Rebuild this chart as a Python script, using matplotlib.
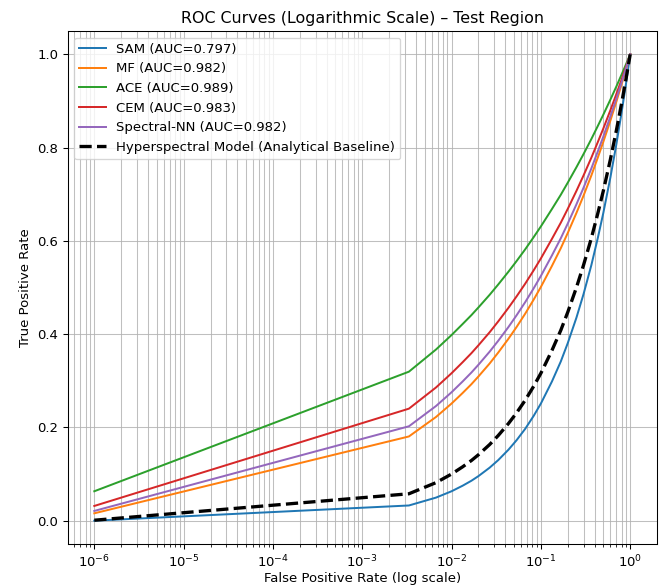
import matplotlib
matplotlib.use("Agg")
import matplotlib.pyplot as plt

fpr = [0.000001, 0.00333, 0.0067, 0.01, 0.0133, 0.0167, 0.02, 0.0267, 0.0333, 0.0433,
       0.0533, 0.0667, 0.0833, 0.1, 0.133, 0.167, 0.2, 0.25, 0.3, 0.367, 0.433, 0.5,
       0.6, 0.7, 0.8, 0.9, 1.0]

tpr_sam = [0.000, 0.0326, 0.0495, 0.0631, 0.0750, 0.0857, 0.0956, 0.1137, 0.1299, 0.1521,
           0.1723, 0.1969, 0.2252, 0.2512, 0.2985, 0.3413, 0.3808, 0.4353, 0.4856, 0.5477,
           0.6055, 0.6598, 0.7360, 0.8073, 0.8747, 0.9387, 1.0]
tpr_mf = [0.0158, 0.1806, 0.2224, 0.2512, 0.2738, 0.2928, 0.3093, 0.3371, 0.3605, 0.3900,
          0.4150, 0.4438, 0.4745, 0.5012, 0.5463, 0.5842, 0.6170, 0.6598, 0.6968, 0.7401,
          0.7781, 0.8123, 0.8579, 0.8985, 0.9353, 0.9689, 1.0]
tpr_ace = [0.0631, 0.3195, 0.3671, 0.3981, 0.4217, 0.4409, 0.4573, 0.4844, 0.5065, 0.5338,
           0.5564, 0.5818, 0.6084, 0.6310, 0.6683, 0.6988, 0.7248, 0.7579, 0.7860, 0.8182,
           0.8460, 0.8706, 0.9029, 0.9311, 0.9564, 0.9791, 1.0]
tpr_cem = [0.0316, 0.2402, 0.2857, 0.3162, 0.3398, 0.3593, 0.3761, 0.4041, 0.4273, 0.4563,
           0.4806, 0.5081, 0.5373, 0.5623, 0.6043, 0.6389, 0.6687, 0.7071, 0.7401, 0.7782,
           0.8114, 0.8409, 0.8801, 0.9147, 0.9457, 0.9740, 1.0]
tpr_snn = [0.0209, 0.2024, 0.2459, 0.2754, 0.2985, 0.3178, 0.3344, 0.3625, 0.3858, 0.4152,
           0.4401, 0.4685, 0.4987, 0.5248, 0.5688, 0.6055, 0.6372, 0.6783, 0.7138, 0.7551,
           0.7913, 0.8236, 0.8668, 0.9049, 0.9394, 0.9709, 1.0]
tpr_base = [0.001, 0.0577, 0.0816, 0.1000, 0.1155, 0.1291, 0.1414, 0.1633, 0.1826, 0.2082,
            0.2309, 0.2582, 0.2887, 0.3162, 0.3651, 0.4082, 0.4472, 0.5000, 0.5477, 0.6055,
            0.6583, 0.7071, 0.7746, 0.8367, 0.8944, 0.9487, 1.0]

labels = ["SAM (AUC=0.797)", "MF (AUC=0.982)", "ACE (AUC=0.989)",
          "CEM (AUC=0.983)", "Spectral-NN (AUC=0.982)"]
series = [tpr_sam, tpr_mf, tpr_ace, tpr_cem, tpr_snn]
colors = ["#1f77b4", "#ff7f0e", "#2ca02c", "#d62728", "#9467bd"]

DPI = 95
fig = plt.figure(figsize=(665 / DPI, 586 / DPI), dpi=DPI)
ax = fig.add_axes([67.5 / 665, 42 / 586, 589.5 / 665, 513 / 586])

for y, lab, c in zip(series, labels, colors):
    ax.plot(fpr, y, color=c, lw=1.5, label=lab)
ax.plot(fpr, tpr_base, "k--", lw=2.5, label="Hyperspectral Model (Analytical Baseline)")

ax.set_xscale("log")
ax.set_xlabel("False Positive Rate (log scale)", labelpad=1.5)
ax.set_ylabel("True Positive Rate")
ax.set_title("ROC Curves (Logarithmic Scale) – Test Region")
ax.grid(True, which="both", color="#b0b0b0", alpha=0.8, lw=0.8)
ax.legend(loc="upper left", fontsize=10)

fig.savefig("out.png", dpi=DPI)
